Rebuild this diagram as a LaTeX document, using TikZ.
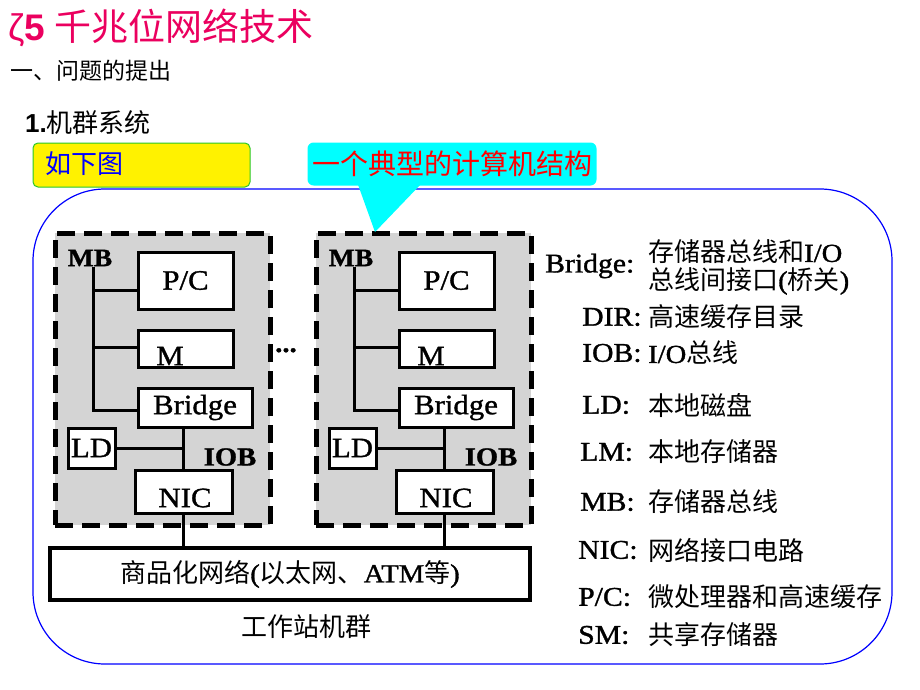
\documentclass[tikz,border=0pt]{standalone}
\usepackage{fontspec}
\setmainfont{Liberation Serif}
\newfontfamily\cjk{Noto Sans CJK SC}
\newfontfamily\arialf{Liberation Sans}
\newfontfamily\scan[FakeStretch=1.1,FakeBold=1.2]{Liberation Serif}
\usetikzlibrary{calc}
\definecolor{titlered}{RGB}{235,0,95}
\definecolor{boxgreen}{RGB}{40,200,40}
\definecolor{aqua}{RGB}{0,255,255}
\begin{document}
\begin{tikzpicture}[x=1pt,y=-1pt,
  box/.style={draw=black,line width=3pt,fill=white,inner sep=0pt,font=\fontsize{28}{30}\selectfont\scan},
  bus/.style={line width=3pt},
  clus/.style={draw=black,line width=5pt,dash pattern=on 18pt off 9pt,fill=black!17,inner sep=0pt},
  lab/.style={inner sep=0pt,font=\fontsize{28}{30}\selectfont\scan},
  blab/.style={inner sep=0pt,font=\fontsize{25}{27}\selectfont\scan\bfseries},
  key/.style={inner sep=0pt,anchor=west,font=\fontsize{27}{29}\selectfont\scan},
  val/.style={inner sep=0pt,anchor=west,font=\fontsize{26}{28}\selectfont\cjk},
]
\useasboundingbox[fill=white] (0,0) rectangle (920,690);

% headings
\node[anchor=west,inner sep=0pt,text=titlered] (title) at (8,28)
  {\fontsize{37}{39}\selectfont{\arialf ζ\textbf{5}} {\cjk 千兆位网络技术}};
\node[anchor=west,inner sep=0pt] (sec) at (10,71)
  {\fontsize{23}{25}\selectfont\cjk 一、问题的提出};
\node[anchor=west,inner sep=0pt] (sub) at (25,123)
  {\fontsize{26}{28}\selectfont{\arialf\bfseries 1.}\cjk 机群系统};

% yellow box
\node[draw=boxgreen,line width=1pt,fill=yellow,rounded corners=5pt,
      minimum width=217pt,minimum height=44pt,inner sep=0pt] (ybox) at (141.5,165) {};
\node[anchor=west,inner sep=0pt,text=blue] (ytext) at (45,164)
  {\fontsize{26}{28}\selectfont\cjk 如下图};

% outer rounded frame
\node[draw=blue,line width=1.2pt,rounded corners=72pt,
      minimum width=859pt,minimum height=475pt,inner sep=0pt] (ring) at (462.5,426.5) {};

% network
\node[draw=black,line width=4pt,fill=white,minimum width=480pt,minimum height=52pt,
      inner sep=0pt,font=\fontsize{26}{28}\selectfont\scan] (net) at (290,574)
  {{\cjk 商品化网络}({\cjk 以太网、}ATM{\cjk 等})};
\node[inner sep=0pt,font=\fontsize{26}{28}\selectfont\cjk] (cap) at (306,627) {工作站机群};

% clusters
\foreach \i/\dx in {1/0,2/261}{
\begin{scope}[xshift=\dx pt]
  \node[clus,minimum width=215pt,minimum height=292pt] (cl\i) at (162.5,379) {};
  \node[blab] (mb\i) at (90,258) {MB};
  \node[box,minimum width=95pt,minimum height=57pt] (pc\i) at (185.5,280.5) {P/C};
  \node[box,minimum width=95pt,minimum height=37pt] (m\i) at (185.5,349) {};
  \node[lab] (mt\i) at (170,356) {M};
  \node[box,minimum width=114pt,minimum height=39pt] (br\i) at (195,407.5) {Bridge};
  \node[box,minimum width=47pt,minimum height=40pt] (ld\i) at (91.5,448) {LD};
  \node[box,minimum width=97pt,minimum height=43pt] (nic\i) at (183.5,492) {};
  \node[lab] (nt\i) at (185,498) {NIC};
  \node[blab,font=\fontsize{26}{28}\selectfont\scan\bfseries] (iob\i) at (230,457) {IOB};
  \coordinate (mbt\i) at (93,267);
  \coordinate (mbb\i) at (93,410);
  \coordinate (tp\i) at (93,290);
  \coordinate (tm\i) at (93,347);
  \draw[bus] (mbt\i) -- (mbb\i) -- (mbb\i -| br\i.west);
  \draw[bus] (tp\i) -- (tp\i -| pc\i.west);
  \draw[bus] (tm\i) -- (tm\i -| m\i.west);
  \draw[bus] (br\i.south -| nic\i.north) -- (nic\i.north);
  \draw[bus] (ld\i.east) -- (ld\i.east -| nic\i.north);
  \draw[bus] (nic\i.south) -- (nic\i.south |- net.north);
\end{scope}
}
\node[anchor=base,inner sep=0pt,font=\fontsize{26}{28}\selectfont\scan\bfseries] (dots) at (286,352) {...};

% callout
\node[fill=aqua,rounded corners=6pt,minimum width=289pt,minimum height=43pt,inner sep=0pt,
      text=red,font=\fontsize{28}{30}\selectfont\cjk] (callout) at (452,164) {一个典型的计算机结构};
\coordinate (tip) at (375,232);
\fill[aqua] ([shift={(50,-3)}]callout.south west) -- (tip) -- ([shift={(115,-3)}]callout.south west) -- cycle;

% legend
\node[key] (kB) at (545,266) {Bridge:};
\node[val] (vB1) at (648,252) {存储器总线和{\scan I/O}};
\node[val] (vB2) at (648,281) {总线间接口{\scan(}桥关{\scan)}};
\node[key] (kDIR) at (582,317) {DIR:};
\node[val] (vDIR) at (648,317) {高速缓存目录};
\node[key] (kIOB) at (582,353) {IOB:};
\node[val] (vIOB) at (648,353) {{\scan I/O}总线};
\node[key] (kLD) at (582,405) {LD:};
\node[val] (vLD) at (648,405) {本地磁盘};
\node[key] (kLM) at (580,452) {LM:};
\node[val] (vLM) at (648,452) {本地存储器};
\node[key] (kMB) at (580,502) {MB:};
\node[val] (vMB) at (648,502) {存储器总线};
\node[key] (kNIC) at (578,550) {NIC:};
\node[val] (vNIC) at (648,550) {网络接口电路};
\node[key] (kPC) at (578,597) {P/C:};
\begin{scope}
  \clip (600,570) rectangle (891,625);
  \node[val] (vPC) at (648,597) {微处理器和高速缓存};
\end{scope}
\node[key] (kSM) at (578,635) {SM:};
\node[val] (vSM) at (648,635) {共享存储器};
\end{tikzpicture}
\end{document}
